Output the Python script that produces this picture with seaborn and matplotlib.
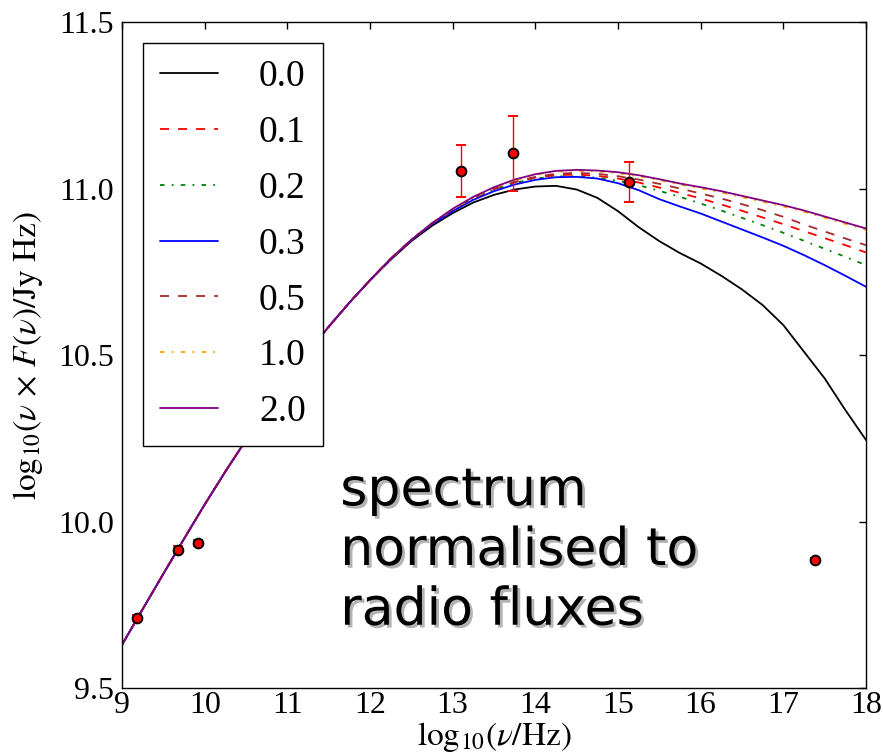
import matplotlib
matplotlib.use("Agg")
import matplotlib.pyplot as plt
import matplotlib.patheffects as pe
import seaborn as sns
import pandas as pd

# ---------------- data ----------------
log_nu = [9.0, 9.25, 9.5, 9.75, 10.0, 10.25, 10.5, 10.75, 11.0, 11.25, 11.5, 11.75,
          12.0, 12.25, 12.5, 12.75, 13.0, 13.25, 13.5, 13.75, 14.0, 14.25, 14.5,
          14.75, 15.0, 15.25, 15.5, 15.75, 16.0, 16.25, 16.5, 16.75, 17.0, 17.25,
          17.5, 17.75, 18.0]

curve_00 = [9.63, 9.737, 9.843, 9.948, 10.051, 10.15, 10.245, 10.337, 10.425, 10.508,
            10.585, 10.657, 10.724, 10.786, 10.842, 10.888, 10.926, 10.958, 10.981,
            10.997, 11.006, 11.008, 10.997, 10.972, 10.932, 10.884, 10.842, 10.806,
            10.775, 10.738, 10.697, 10.65, 10.59, 10.51, 10.43, 10.335, 10.245]
curve_01 = [9.63, 9.737, 9.843, 9.948, 10.051, 10.15, 10.245, 10.337, 10.425, 10.508,
            10.585, 10.657, 10.725, 10.789, 10.846, 10.895, 10.936, 10.971, 10.998,
            11.019, 11.033, 11.04, 11.042, 11.038, 11.03, 11.018, 11.003, 10.987,
            10.97, 10.952, 10.933, 10.913, 10.893, 10.872, 10.851, 10.83, 10.808]
curve_02 = [9.63, 9.737, 9.843, 9.948, 10.051, 10.15, 10.245, 10.337, 10.425, 10.508,
            10.585, 10.657, 10.725, 10.789, 10.846, 10.895, 10.935, 10.97, 10.997,
            11.017, 11.03, 11.036, 11.037, 11.032, 11.023, 11.01, 10.993, 10.975,
            10.955, 10.934, 10.912, 10.89, 10.867, 10.843, 10.819, 10.795, 10.77]
curve_03 = [9.63, 9.737, 9.843, 9.948, 10.051, 10.15, 10.245, 10.337, 10.425, 10.508,
            10.585, 10.657, 10.725, 10.789, 10.845, 10.893, 10.932, 10.966, 10.992,
            11.012, 11.026, 11.034, 11.035, 11.03, 11.016, 10.995, 10.968, 10.946,
            10.925, 10.901, 10.877, 10.853, 10.828, 10.8, 10.77, 10.738, 10.705]
curve_05 = [9.63, 9.737, 9.843, 9.948, 10.051, 10.15, 10.245, 10.337, 10.425, 10.508,
            10.585, 10.657, 10.725, 10.789, 10.846, 10.895, 10.937, 10.972, 10.999,
            11.02, 11.035, 11.044, 11.047, 11.044, 11.037, 11.027, 11.014, 11.0,
            10.985, 10.97, 10.953, 10.935, 10.915, 10.892, 10.871, 10.85, 10.83]
curve_10 = [9.63, 9.737, 9.843, 9.948, 10.051, 10.15, 10.245, 10.337, 10.425, 10.508,
            10.585, 10.657, 10.725, 10.789, 10.846, 10.896, 10.937, 10.973, 11.002,
            11.025, 11.041, 11.051, 11.053, 11.051, 11.046, 11.037, 11.025, 11.012,
            11.0, 10.988, 10.974, 10.96, 10.946, 10.93, 10.912, 10.894, 10.876]
curve_20 = [9.63, 9.737, 9.843, 9.948, 10.051, 10.15, 10.245, 10.337, 10.425, 10.508,
            10.585, 10.657, 10.725, 10.789, 10.846, 10.896, 10.939, 10.975, 11.004,
            11.027, 11.043, 11.053, 11.056, 11.054, 11.049, 11.04, 11.028, 11.015,
            11.004, 10.992, 10.978, 10.964, 10.95, 10.934, 10.916, 10.898, 10.88]

curve_labels = ["0.0", "0.1", "0.2", "0.3", "0.5", "1.0", "2.0"]
curve_values = [curve_00, curve_01, curve_02, curve_03, curve_05, curve_10, curve_20]

obs_x = [9.185, 9.68, 9.915, 13.10, 13.73, 15.13, 17.38]
obs_y = [9.71, 9.915, 9.935, 11.053, 11.106, 11.02, 9.885]
obs_err = [0.01, 0.01, 0.01, 0.079, 0.112, 0.06, 0.005]

x_ticks = [9, 10, 11, 12, 13, 14, 15, 16, 17, 18]
y_ticks = [9.5, 10.0, 10.5, 11.0, 11.5]
y_tick_labels = ["9.5", "10.0", "10.5", "11.0", "11.5"]

# ---------------- style ----------------
sns.set_style("white")
plt.rcParams.update({
    "font.family": ["Liberation Serif", "DejaVu Serif"],
    "mathtext.fontset": "stix",
    "text.color": "black",
    "axes.labelcolor": "black",
    "xtick.color": "black",
    "ytick.color": "black",
    "xtick.direction": "in",
    "ytick.direction": "in",
    "xtick.top": True,
    "ytick.right": True,
    "xtick.major.size": 5,
    "ytick.major.size": 5,
    "axes.edgecolor": "black",
    "axes.linewidth": 1.0,
})

colors = ["black", "red", "green", "blue", "brown", "orange", "purple"]
styles = ["-", (0, (5, 5)), (0, (2.5, 4, 1, 4)), "-", (0, (5, 5)), (0, (2.5, 4, 1, 4)), "-"]

fig = plt.figure(figsize=(8.83, 7.54), dpi=100)
ax = fig.add_axes([0.1382, 0.0875, 0.8425, 0.8833])

for lab, vals, c, ls in zip(curve_labels, curve_values, colors, styles):
    df = pd.DataFrame({"x": log_nu, "y": vals})
    sns.lineplot(data=df, x="x", y="y", ax=ax, color=c, linestyle=ls,
                 linewidth=1.3, label=lab, sort=False)

ax.errorbar(obs_x, obs_y, yerr=obs_err, fmt="o", color="red", ecolor="red",
            mfc="red", mec="black", mew=1.4, ms=7, capsize=3.5, elinewidth=1.0,
            zorder=5)

ax.set_xlim(9, 18)
ax.set_ylim(9.5, 11.5)
ax.set_xticks(x_ticks)
ax.set_yticks(y_ticks)
ax.set_yticklabels(y_tick_labels)
ax.tick_params(labelsize=23, width=1)
ax.tick_params(axis="x", pad=2)
ax.tick_params(axis="y", pad=6)

ax.set_xlabel(r"$\mathrm{log}_{10}(\nu/\mathrm{Hz})$", fontsize=24, labelpad=0)
ax.set_ylabel(r"$\mathrm{log}_{10}(\nu \,\times\, F(\nu)/\mathrm{Jy\ Hz})$",
              fontsize=24, labelpad=9)

leg = ax.legend(loc="upper left", fontsize=27, frameon=True, fancybox=False,
                edgecolor="black", framealpha=1, handlelength=1.55,
                handletextpad=1.1, labelspacing=0.57, borderaxespad=0.55,
                borderpad=0.45)
leg.get_frame().set_linewidth(1.0)

ax.text(11.64, 9.69, "spectrum\nnormalised to\nradio fluxes", fontsize=37.5,
        family="DejaVu Sans", color="black", va="baseline", ha="left",
        linespacing=1.25,
        path_effects=[pe.withSimplePatchShadow(offset=(2, -2),
                                              shadow_rgbFace="0.7", alpha=1.0)])

fig.savefig("out.png", dpi=100)
